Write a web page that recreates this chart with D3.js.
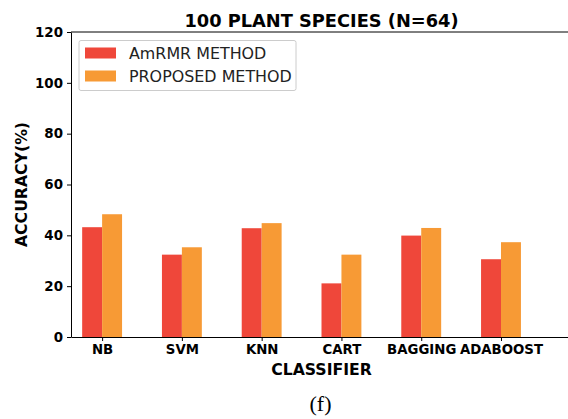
<!DOCTYPE html>
<html>
<head>
<meta charset="utf-8">
<script src="https://cdn.jsdelivr.net/npm/d3@7"></script>
<style>
  body { margin: 0; background: #fff; }
  text { font-family: "DejaVu Sans", sans-serif; }
</style>
</head>
<body>
<div id="chart"></div>
<script>
var classifiers = ['NB', 'SVM', 'KNN', 'CART', 'BAGGING', 'ADABOOST'];
var amrmr = [43.2, 32.4, 42.8, 21.1, 39.9, 30.6];
var proposed = [48.3, 35.3, 44.8, 32.4, 42.9, 37.3];
var yTicks = [0, 20, 40, 60, 80, 100, 120];
var seriesNames = ['AmRMR METHOD', 'PROPOSED METHOD'];
var colors = ['#ef473a', '#f79a35'];

var width = 568, height = 419;
var margin = { top: 32, right: -4, bottom: 82, left: 71 };
var plotW = width - margin.left - margin.right;
var plotH = height - margin.top - margin.bottom;

var svg = d3.select('#chart').append('svg')
    .attr('width', width)
    .attr('height', height);

var g = svg.append('g')
    .attr('transform', 'translate(' + margin.left + ',' + margin.top + ')');

// category index -> pixel, like matplotlib's numeric x positions
var x = d3.scaleLinear().domain([-0.39, 5.89]).range([0, plotW]);
var y = d3.scaleLinear().domain([0, 120]).range([plotH, 0]);
var barW = x(0.25) - x(0);

var series = [amrmr, proposed];
series.forEach(function (vals, s) {
    g.selectAll('.bar' + s)
        .data(vals)
        .enter().append('rect')
        .attr('class', 'bar' + s)
        .attr('x', function (d, i) { return x(i) - (s === 0 ? barW : 0); })
        .attr('width', barW)
        .attr('y', function (d) { return y(d); })
        .attr('height', function (d) { return plotH - y(d); })
        .attr('fill', colors[s]);
});

// top spine
g.append('line')
    .attr('x1', 0).attr('x2', plotW)
    .attr('y1', 0).attr('y2', 0)
    .attr('stroke', '#000').attr('stroke-width', 1);

// x axis
var xAxis = g.append('g')
    .attr('transform', 'translate(0,' + plotH + ')')
    .call(d3.axisBottom(x)
        .tickValues(d3.range(classifiers.length))
        .tickFormat(function (i) { return classifiers[i]; })
        .tickSize(4).tickPadding(4).tickSizeOuter(0));
xAxis.select('.domain').attr('stroke', '#000');
xAxis.selectAll('text')
    .style('font-family', '"DejaVu Sans", sans-serif')
    .style('font-weight', 'bold')
    .style('font-size', '13.3px')
    .attr('fill', '#000');

// y axis
var yAxis = g.append('g')
    .call(d3.axisLeft(y)
        .tickValues(yTicks)
        .tickSize(4).tickPadding(4).tickSizeOuter(0));
yAxis.select('.domain').attr('stroke', '#000');
yAxis.selectAll('text')
    .style('font-family', '"DejaVu Sans", sans-serif')
    .style('font-weight', 'bold')
    .style('font-size', '13.4px')
    .attr('fill', '#000');

// title and labels
svg.append('text')
    .attr('x', margin.left + plotW / 2)
    .attr('y', 27)
    .attr('text-anchor', 'middle')
    .style('font-weight', 'bold')
    .style('font-size', '17.8px')
    .text('100 PLANT SPECIES (N=64)');

svg.append('text')
    .attr('x', margin.left + plotW / 2)
    .attr('y', 375)
    .attr('text-anchor', 'middle')
    .style('font-weight', 'bold')
    .style('font-size', '15.7px')
    .text('CLASSIFIER');

svg.append('text')
    .attr('transform', 'translate(27,' + (margin.top + plotH / 2) + ') rotate(-90)')
    .attr('text-anchor', 'middle')
    .style('font-weight', 'bold')
    .style('font-size', '15.7px')
    .text('ACCURACY(%)');

svg.append('text')
    .attr('x', margin.left + plotW / 2 - 1)
    .attr('y', 411)
    .attr('text-anchor', 'middle')
    .style('font-family', '"Liberation Serif", "DejaVu Serif", serif')
    .style('font-size', '22px')
    .text('(f)');

// legend
var legend = svg.append('g').attr('transform', 'translate(79,40.5)');
legend.append('rect')
    .attr('width', 217).attr('height', 50)
    .attr('rx', 2)
    .attr('fill', '#fff')
    .attr('stroke', '#ccc')
    .attr('stroke-width', 1);
var items = legend.selectAll('.item')
    .data(seriesNames)
    .enter().append('g')
    .attr('class', 'item')
    .attr('transform', function (d, i) { return 'translate(6,' + (7 + i * 23) + ')'; });
items.append('rect')
    .attr('width', 31).attr('height', 11)
    .attr('fill', function (d, i) { return colors[i]; });
items.append('text')
    .attr('x', 44).attr('y', 11)
    .style('font-size', '15.9px')
    .attr('fill', '#222')
    .text(function (d) { return d; });
</script>
</body>
</html>
